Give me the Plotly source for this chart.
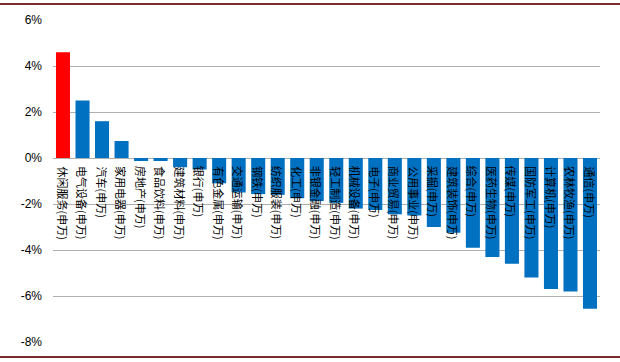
import plotly.graph_objects as go

categories = ["休闲服务(申万)", "电气设备(申万)", "汽车(申万)", "家用电器(申万)", "房地产(申万)",
              "食品饮料(申万)", "建筑材料(申万)", "银行(申万)", "有色金属(申万)", "交通运输(申万)",
              "钢铁(申万)", "纺织服装(申万)", "化工(申万)", "非银金融(申万)", "轻工制造(申万)",
              "机械设备(申万)", "电子(申万)", "商业贸易(申万)", "公用事业(申万)", "采掘(申万)",
              "建筑装饰(申万)", "综合(申万)", "医药生物(申万)", "传媒(申万)", "国防军工(申万)",
              "计算机(申万)", "农林牧渔(申万)", "通信(申万)"]
values = [4.6, 2.5, 1.6, 0.74, -0.13, -0.13, -0.4, -0.5, -1.1, -1.5,
          -1.57, -1.6, -1.75, -1.87, -1.95, -2.2, -2.26, -2.45, -2.5, -3.0,
          -3.25, -3.9, -4.3, -4.6, -5.2, -5.7, -5.8, -6.55]
tick_vals = [6, 4, 2, 0, -2, -4, -6, -8]
tick_text = ["6%", "4%", "2%", "0%", "-2%", "-4%", "-6%", "-8%"]

colors = ["#FF0000" if i == 0 else "#0070C0" for i in range(len(values))]

fig = go.Figure(go.Bar(x=categories, y=values, marker=dict(color=colors, line=dict(width=0))))

for c in categories:
    fig.add_annotation(x=c, y=0, xref="x", yref="y", text=c, textangle=90,
                       showarrow=False, xanchor="center", yanchor="top", yshift=-6,
                       font=dict(family="Noto Sans CJK SC", size=11, color="#000000"))

# dark red rules at the top and bottom edges of the image
for yy, ya in ((1.0, "bottom"), (0.0, "top")):
    fig.add_annotation(x=0.5, y=yy, xref="paper", yref="paper", text="", showarrow=False,
                       xanchor="center", yanchor=ya, width=640, height=2,
                       bgcolor="#7B2C2C", borderpad=0, borderwidth=0,
                       yshift=15 if ya == "bottom" else -14, xshift=-22)

fig.update_layout(
    width=620, height=362,
    margin=dict(l=53, r=20, t=20, b=20),
    paper_bgcolor="white", plot_bgcolor="white",
    showlegend=False, bargap=0.28,
    font=dict(family="Liberation Sans", size=12, color="#000000"),
)
fig.update_xaxes(showticklabels=False, showgrid=False, zeroline=False, showline=False)
fig.update_yaxes(range=[-8, 6], tickvals=tick_vals, ticktext=tick_text, showgrid=True,
                 gridcolor="#B0B0B0", gridwidth=1, zeroline=True, zerolinecolor="#B0B0B0",
                 zerolinewidth=1, ticks="", ticklabelstandoff=10, showline=False)

fig.write_html("out.html")
